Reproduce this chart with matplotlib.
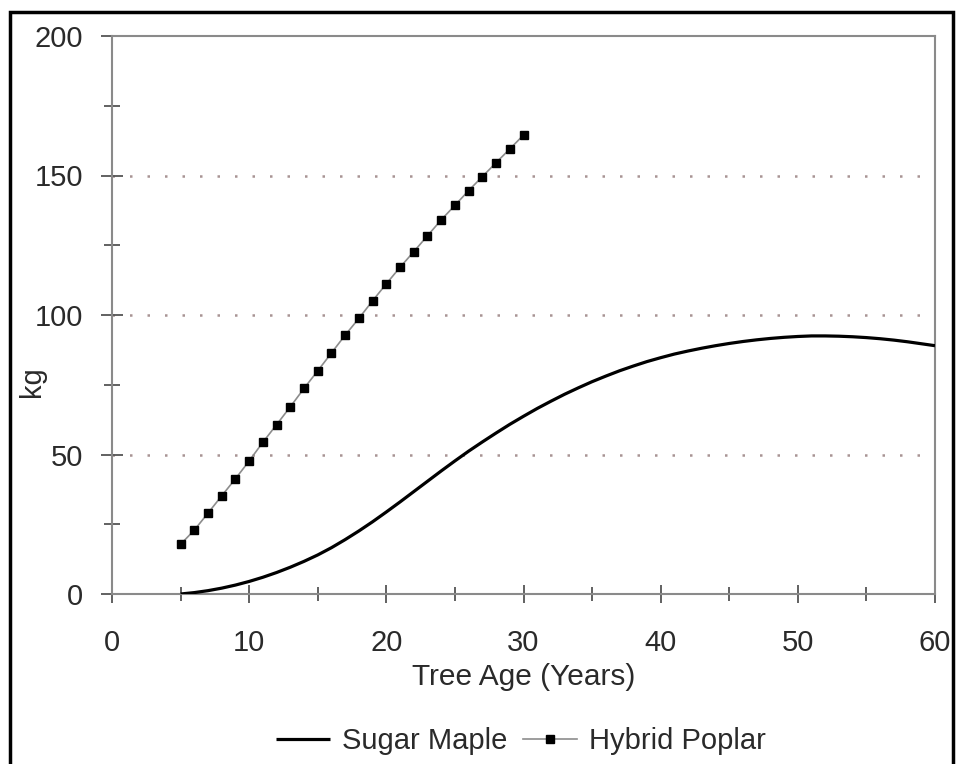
import matplotlib
matplotlib.use("Agg")
import matplotlib.pyplot as plt
from matplotlib.patches import Rectangle
from matplotlib.ticker import MultipleLocator

plt.rcParams['font.family'] = ['Liberation Sans', 'DejaVu Sans']

# Biomass by tree age (kg)
maple_age = list(range(5, 61))
maple_kg = [0.0, 0.5, 1.2, 2.1, 3.2, 4.5, 6.0, 7.7, 9.6, 11.7,
            14.0, 16.6, 19.5, 22.6, 25.9, 29.4, 33.0, 36.7, 40.4, 44.1,
            47.7, 51.2, 54.5, 57.7, 60.8, 63.7, 66.5, 69.1, 71.6, 73.9,
            76.1, 78.1, 80.0, 81.7, 83.3, 84.7, 86.0, 87.1, 88.1, 89.0,
            89.8, 90.5, 91.1, 91.6, 92.0, 92.3, 92.5, 92.5, 92.4, 92.2,
            91.9, 91.5, 91.0, 90.4, 89.7, 89.0]

poplar_age = list(range(5, 31))
poplar_kg = [17.8, 22.9, 29.0, 35.2, 41.3, 47.7, 54.4, 60.7, 67.1, 73.7,
             80.0, 86.4, 92.8, 98.8, 105.1, 111.2, 117.1, 122.7, 128.4, 134.1,
             139.3, 144.6, 149.6, 154.6, 159.5, 164.5]

x_ticks = [0, 10, 20, 30, 40, 50, 60]
y_ticks = [0, 50, 100, 150, 200]
grid_levels = [50, 100, 150]

text_color = "#2a2a2a"
axis_color = "#8a8a8a"
fs = 21

fig = plt.figure(figsize=(9.59, 7.64), dpi=100)
ax = fig.add_axes([112 / 959, 170 / 764, 823 / 959, 558 / 764])

# dotted horizontal guides
for g in grid_levels:
    ax.axhline(g, color="#a89494", lw=1.8, linestyle=(0, (1, 6.0)), zorder=1)

ax.plot(maple_age, maple_kg, color="black", lw=2.3, zorder=3,
        label="Sugar Maple", solid_capstyle="butt")
ax.plot(poplar_age, poplar_kg, color="#8c8c8c", lw=1.2, marker="s",
        markersize=6.4, markerfacecolor="black", markeredgecolor="black",
        zorder=4, label="Hybrid Poplar")

ax.set_xlim(0, 60)
ax.set_ylim(0, 200)
ax.set_xticks(x_ticks)
ax.set_yticks(y_ticks)
ax.xaxis.set_minor_locator(MultipleLocator(5))
ax.yaxis.set_minor_locator(MultipleLocator(25))

for sp in ax.spines.values():
    sp.set_color(axis_color)
    sp.set_linewidth(1.5)

ax.tick_params(axis="y", which="major", direction="inout", length=16, width=1.3,
               color="#555555", labelsize=fs, labelcolor=text_color, pad=13)
ax.tick_params(axis="y", which="minor", direction="inout", length=12, width=1.3,
               color="#555555")
ax.tick_params(axis="x", which="major", direction="inout", length=13, width=1.3,
               color="#555555", labelsize=fs, labelcolor=text_color, pad=19)
ax.tick_params(axis="x", which="minor", direction="inout", length=10, width=1.3,
               color="#555555")

ax.set_xlabel("Tree Age (Years)", fontsize=21.5, color=text_color)
ax.xaxis.set_label_coords(0.5, -0.124)
ax.set_ylabel("kg", fontsize=fs, color=text_color)
ax.yaxis.set_label_coords(-0.08, 0.38)

fig.legend(loc="center", bbox_to_anchor=(521 / 959, 1 - 741 / 764), ncol=2,
           frameon=False, fontsize=fs, handlelength=1.85, handletextpad=0.4,
           columnspacing=0.55, labelcolor=text_color)

# frame around the whole figure
fig.patches.append(Rectangle((10 / 959, -0.05), 943 / 959, 1 - 12 / 764 + 0.05,
                             transform=fig.transFigure, fill=False,
                             edgecolor="black", lw=2.5, zorder=10))

fig.savefig("out.png", dpi=100, facecolor="white")
